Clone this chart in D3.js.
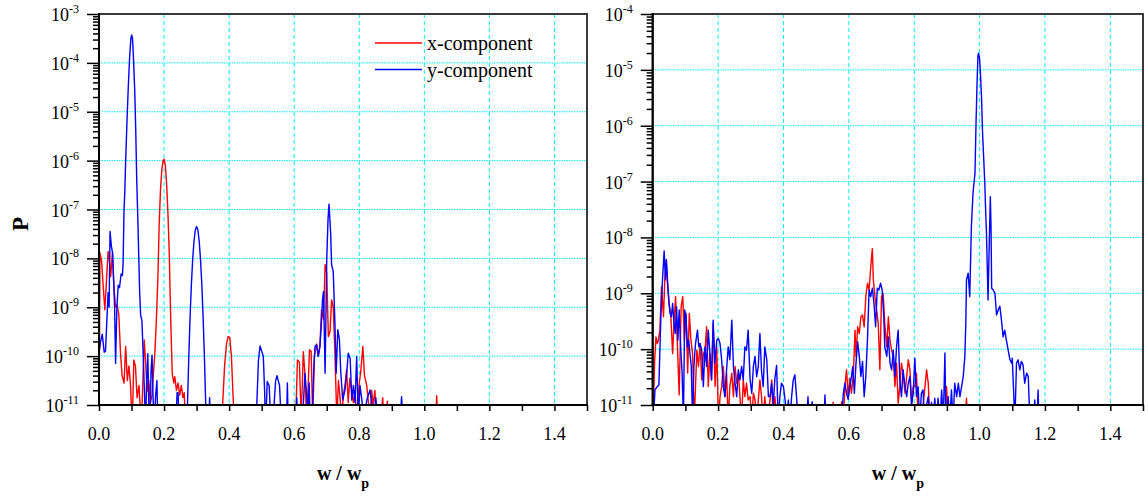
<!DOCTYPE html>
<html>
<head>
<meta charset="utf-8">
<script src="https://cdn.jsdelivr.net/npm/d3@7"></script>
<style>
  body { margin: 0; background: #fff; }
  svg text { font-family: "Liberation Serif", "Times New Roman", serif; fill: #000; }
</style>
</head>
<body>
<svg id="chart" width="1148" height="500"></svg>
<script>
// values: [w / wp, log10(P)]
const seriesNames = ['x-component', 'y-component'];
const seriesColors = ['#ff0000', '#0000ff'];
const xTicks = [0, 0.1, 0.2, 0.3, 0.4, 0.5, 0.6, 0.7, 0.8, 0.9, 1.0, 1.1, 1.2, 1.3, 1.4, 1.5];
const xTickLabels = ['0.0', '0.2', '0.4', '0.6', '0.8', '1.0', '1.2', '1.4'];
const leftDecades = [-11, -10, -9, -8, -7, -6, -5, -4, -3];
const rightDecades = [-11, -10, -9, -8, -7, -6, -5, -4];

const leftXComp = [
  [0.000,-11.5],[0.003,-7.89],[0.008,-8.06],[0.013,-8.58],[0.018,-9.05],[0.023,-8.46],[0.028,-7.86],[0.031,-7.98],
  [0.036,-8.37],[0.041,-7.89],[0.046,-8.6],[0.051,-9.0],[0.056,-8.95],[0.061,-9.16],[0.066,-9.93],[0.071,-10.4],
  [0.077,-10.55],[0.082,-9.8],[0.087,-10.5],[0.092,-10.2],[0.097,-10.6],[0.102,-11.5],[0.107,-10.08],[0.112,-10.2],
  [0.117,-10.85],[0.123,-10.6],[0.130,-11.5],[0.139,-9.67],[0.143,-10.1],[0.148,-10.72],[0.153,-10.5],[0.158,-10.96],
  [0.163,-10.8],[0.167,-10.38],[0.172,-9.9],[0.177,-9.16],[0.181,-8.4],[0.185,-7.3],[0.189,-6.6],[0.193,-6.2],
  [0.197,-6.0],[0.200,-5.97],[0.204,-6.1],[0.208,-6.5],[0.212,-7.1],[0.216,-7.9],[0.220,-9.12],[0.225,-10.35],
  [0.230,-10.55],[0.233,-10.42],[0.238,-10.7],[0.243,-10.55],[0.248,-10.8],[0.253,-10.6],[0.258,-10.85],[0.262,-10.75],
  [0.266,-11.5],[0.370,-11.5],[0.380,-11.0],[0.386,-10.2],[0.392,-9.75],[0.397,-9.6],[0.402,-9.62],[0.407,-10.0],
  [0.412,-10.8],[0.417,-11.5],[0.600,-11.5],[0.606,-11.0],[0.610,-10.08],[0.616,-10.12],[0.621,-11.2],[0.625,-10.6],
  [0.628,-9.91],[0.633,-10.35],[0.638,-11.3],[0.643,-10.6],[0.647,-9.87],[0.652,-9.9],[0.657,-11.3],[0.662,-10.0],
  [0.669,-9.75],[0.674,-10.0],[0.679,-9.8],[0.684,-9.05],[0.690,-9.25],[0.695,-8.13],[0.700,-8.3],[0.705,-9.6],
  [0.710,-9.5],[0.715,-8.85],[0.720,-9.0],[0.725,-9.9],[0.731,-11.3],[0.736,-10.5],[0.741,-10.85],[0.746,-11.3],
  [0.751,-10.8],[0.756,-10.6],[0.761,-10.28],[0.766,-10.95],[0.771,-10.45],[0.777,-10.75],[0.782,-10.95],[0.787,-10.7],
  [0.792,-11.3],[0.797,-10.8],[0.800,-10.55],[0.804,-10.35],[0.811,-9.8],[0.816,-10.4],[0.823,-10.6],[0.828,-10.95],
  [0.833,-11.3],[0.838,-10.7],[0.843,-11.0],[0.848,-10.7],[0.853,-11.3],[0.866,-11.3],[0.872,-10.85],[0.876,-11.3],
  [0.883,-11.3],[0.886,-10.92],[0.889,-11.3],[1.035,-11.3],[1.038,-10.81],[1.041,-11.3],[1.5,-11.5]
];

const leftYComp = [
  [0.000,-9.93],[0.005,-9.7],[0.010,-9.55],[0.016,-9.92],[0.020,-9.9],[0.024,-9.3],[0.028,-8.7],[0.031,-9.0],
  [0.034,-7.45],[0.038,-7.75],[0.042,-7.9],[0.045,-8.45],[0.048,-9.0],[0.051,-10.15],[0.055,-9.0],[0.059,-8.55],
  [0.063,-8.6],[0.068,-8.32],[0.072,-8.35],[0.074,-8.1],[0.077,-7.0],[0.079,-6.7],[0.082,-6.0],[0.086,-5.2],
  [0.090,-4.5],[0.094,-3.9],[0.098,-3.5],[0.1005,-3.43],[0.103,-3.5],[0.106,-3.9],[0.110,-4.6],[0.113,-5.4],
  [0.116,-6.4],[0.119,-7.1],[0.122,-7.9],[0.125,-8.7],[0.128,-9.16],[0.132,-9.28],[0.136,-10.0],[0.140,-10.8],
  [0.143,-11.5],[0.146,-10.6],[0.150,-9.95],[0.153,-11.0],[0.156,-11.5],[0.160,-10.3],[0.163,-9.98],[0.166,-10.8],
  [0.169,-11.5],[0.174,-10.8],[0.178,-10.5],[0.181,-11.5],[0.236,-11.5],[0.240,-10.75],[0.243,-10.75],[0.247,-11.5],
  [0.268,-11.5],[0.272,-10.98],[0.276,-10.02],[0.280,-9.2],[0.284,-8.53],[0.288,-8.02],[0.292,-7.65],[0.296,-7.42],
  [0.300,-7.35],[0.304,-7.42],[0.308,-7.65],[0.312,-8.02],[0.316,-8.53],[0.320,-9.2],[0.324,-10.02],[0.328,-10.98],
  [0.332,-11.5],[0.337,-11.5],[0.340,-10.85],[0.343,-11.5],[0.480,-11.5],[0.485,-11.0],[0.490,-10.1],[0.495,-9.79],
  [0.500,-9.9],[0.505,-10.0],[0.509,-10.7],[0.512,-11.5],[0.517,-10.52],[0.523,-10.6],[0.529,-11.5],[0.538,-11.0],
  [0.543,-10.5],[0.547,-10.4],[0.551,-10.5],[0.555,-10.6],[0.561,-11.5],[0.576,-11.5],[0.579,-10.55],[0.582,-11.5],
  [0.605,-11.5],[0.608,-10.85],[0.611,-11.5],[0.624,-11.5],[0.628,-11.0],[0.633,-10.35],[0.638,-10.75],[0.642,-11.2],
  [0.646,-10.55],[0.649,-11.3],[0.655,-11.3],[0.660,-10.3],[0.664,-9.8],[0.669,-9.77],[0.674,-10.0],[0.679,-9.8],
  [0.683,-9.4],[0.687,-8.85],[0.690,-8.68],[0.695,-10.35],[0.700,-8.03],[0.704,-7.2],[0.707,-6.89],[0.712,-7.48],
  [0.715,-8.13],[0.720,-8.27],[0.725,-9.29],[0.729,-10.35],[0.734,-9.46],[0.739,-9.66],[0.743,-10.31],[0.749,-10.9],
  [0.756,-10.7],[0.762,-10.3],[0.766,-9.94],[0.772,-10.05],[0.777,-10.9],[0.782,-10.6],[0.787,-10.95],[0.792,-10.01],
  [0.797,-11.3],[0.802,-10.6],[0.808,-10.9],[0.815,-11.3],[0.823,-10.9],[0.833,-10.69],[0.838,-10.95],[0.846,-11.3],
  [0.851,-10.85],[0.855,-11.3],[0.926,-11.3],[0.930,-10.83],[0.934,-11.3],[1.5,-11.5]
];

const rightXComp = [
  [0.000,-11.5],[0.006,-10.2],[0.010,-9.78],[0.014,-9.9],[0.017,-9.85],[0.022,-9.66],[0.027,-8.88],[0.033,-9.42],
  [0.037,-8.76],[0.041,-8.40],[0.045,-8.82],[0.050,-9.18],[0.055,-9.36],[0.061,-10.08],[0.065,-9.54],[0.070,-9.06],
  [0.075,-9.84],[0.081,-10.82],[0.087,-9.24],[0.092,-9.06],[0.097,-9.84],[0.102,-9.36],[0.107,-10.43],[0.112,-9.36],
  [0.117,-9.84],[0.122,-10.08],[0.127,-11.3],[0.135,-10.02],[0.140,-10.31],[0.145,-9.9],[0.150,-10.55],[0.155,-10.08],
  [0.160,-10.02],[0.165,-9.6],[0.170,-10.67],[0.175,-10.08],[0.180,-10.55],[0.185,-9.54],[0.191,-10.67],[0.196,-9.96],
  [0.201,-11.3],[0.206,-10.85],[0.211,-10.67],[0.216,-10.31],[0.221,-10.85],[0.226,-10.43],[0.231,-11.3],[0.236,-10.67],
  [0.242,-10.43],[0.247,-10.85],[0.252,-10.31],[0.257,-10.61],[0.262,-10.43],[0.267,-10.85],[0.272,-11.3],[0.277,-10.55],
  [0.282,-10.85],[0.287,-10.61],[0.292,-10.91],[0.298,-10.85],[0.303,-11.3],[0.308,-10.79],[0.313,-10.91],[0.318,-11.3],
  [0.328,-10.55],[0.333,-10.85],[0.338,-11.3],[0.343,-10.85],[0.349,-11.3],[0.359,-10.91],[0.364,-10.55],[0.369,-11.3],
  [0.374,-10.85],[0.379,-11.3],[0.549,-11.3],[0.552,-10.95],[0.555,-11.3],[0.575,-11.3],[0.578,-10.94],[0.583,-11.3],
  [0.588,-10.67],[0.593,-10.37],[0.598,-10.85],[0.603,-10.52],[0.608,-10.79],[0.614,-10.43],[0.619,-9.66],[0.622,-10.13],
  [0.627,-9.6],[0.632,-9.72],[0.637,-9.42],[0.642,-9.39],[0.647,-9.6],[0.652,-9.06],[0.657,-8.82],[0.662,-8.94],
  [0.668,-8.46],[0.672,-8.20],[0.675,-8.76],[0.680,-9.06],[0.685,-9.30],[0.690,-9.54],[0.695,-10.37],[0.700,-9.06],
  [0.705,-9.0],[0.710,-9.54],[0.716,-9.96],[0.721,-9.42],[0.726,-9.84],[0.731,-10.02],[0.736,-10.13],[0.741,-10.67],
  [0.746,-10.25],[0.751,-10.97],[0.756,-10.67],[0.761,-10.25],[0.766,-10.43],[0.772,-10.79],[0.777,-10.49],[0.782,-10.19],
  [0.787,-10.37],[0.792,-10.97],[0.797,-10.67],[0.802,-10.67],[0.807,-10.43],[0.812,-11.3],[0.822,-11.3],[0.833,-10.67],
  [0.838,-10.37],[0.843,-10.61],[0.848,-11.3],[0.894,-11.3],[0.899,-10.67],[0.904,-11.3],[0.957,-11.3],[0.960,-10.88],
  [0.963,-11.3],[1.5,-11.5]
];

const rightYComp = [
  [0.000,-11.5],[0.007,-10.73],[0.014,-10.67],[0.019,-10.64],[0.022,-10.02],[0.025,-9.42],[0.030,-8.76],[0.035,-8.24],
  [0.039,-8.76],[0.042,-8.40],[0.046,-8.82],[0.050,-9.18],[0.053,-9.36],[0.057,-9.42],[0.061,-9.18],[0.065,-9.54],
  [0.069,-9.72],[0.073,-9.24],[0.077,-9.84],[0.081,-9.30],[0.086,-10.02],[0.090,-10.43],[0.094,-11.3],[0.098,-9.30],
  [0.102,-9.42],[0.106,-9.96],[0.110,-9.84],[0.114,-10.08],[0.118,-10.31],[0.122,-11.3],[0.126,-10.31],[0.131,-9.90],
  [0.137,-9.66],[0.141,-9.96],[0.145,-9.90],[0.150,-10.02],[0.155,-10.67],[0.160,-9.96],[0.165,-10.31],[0.170,-9.66],
  [0.175,-10.08],[0.180,-10.55],[0.185,-9.48],[0.190,-10.25],[0.196,-9.84],[0.201,-9.81],[0.206,-9.90],[0.211,-10.19],
  [0.216,-10.67],[0.221,-10.85],[0.226,-10.37],[0.231,-9.96],[0.236,-10.19],[0.242,-9.48],[0.247,-10.31],[0.252,-10.61],
  [0.257,-10.85],[0.262,-10.37],[0.267,-10.55],[0.272,-10.31],[0.277,-10.55],[0.282,-9.96],[0.287,-10.02],[0.292,-9.66],
  [0.298,-10.55],[0.303,-10.79],[0.308,-10.31],[0.313,-10.13],[0.318,-10.49],[0.323,-10.31],[0.328,-9.72],[0.333,-10.40],
  [0.338,-10.67],[0.343,-9.96],[0.349,-10.19],[0.354,-10.85],[0.359,-10.85],[0.364,-10.61],[0.369,-10.97],[0.374,-10.52],
  [0.379,-10.29],[0.384,-11.3],[0.389,-10.85],[0.394,-10.61],[0.400,-10.67],[0.405,-10.91],[0.410,-11.3],[0.415,-10.91],
  [0.420,-11.3],[0.425,-10.85],[0.430,-10.55],[0.435,-10.46],[0.440,-10.85],[0.445,-11.3],[0.471,-11.3],[0.475,-10.85],
  [0.479,-11.3],[0.488,-10.94],[0.493,-11.3],[0.524,-11.3],[0.527,-10.82],[0.530,-11.3],[0.578,-11.3],[0.583,-10.8],
  [0.588,-10.61],[0.593,-10.79],[0.598,-10.9],[0.603,-10.67],[0.608,-10.49],[0.612,-10.31],[0.617,-10.79],[0.622,-10.25],
  [0.627,-9.87],[0.632,-10.13],[0.637,-10.49],[0.642,-10.22],[0.647,-10.85],[0.652,-10.49],[0.657,-9.84],[0.662,-8.94],
  [0.667,-9.06],[0.672,-8.91],[0.677,-9.18],[0.682,-9.6],[0.687,-8.91],[0.692,-8.94],[0.697,-8.82],[0.702,-8.94],
  [0.707,-9.42],[0.710,-9.96],[0.716,-10.13],[0.721,-9.78],[0.726,-10.25],[0.731,-10.37],[0.736,-10.02],[0.741,-10.49],
  [0.746,-9.96],[0.751,-9.66],[0.756,-10.55],[0.761,-10.85],[0.766,-10.37],[0.772,-10.67],[0.777,-10.85],[0.782,-10.61],
  [0.787,-10.49],[0.792,-11.0],[0.797,-10.79],[0.802,-10.16],[0.807,-10.85],[0.812,-10.67],[0.817,-11.3],[0.822,-10.79],
  [0.827,-10.73],[0.832,-11.3],[0.838,-11.0],[0.843,-10.85],[0.848,-11.3],[0.853,-10.95],[0.858,-11.3],[0.863,-10.88],
  [0.868,-11.3],[0.873,-10.88],[0.879,-11.3],[0.884,-10.73],[0.889,-11.3],[0.894,-10.07],[0.897,-11.3],[0.904,-10.85],
  [0.909,-11.3],[0.914,-10.73],[0.919,-11.3],[0.924,-10.61],[0.930,-10.85],[0.935,-10.61],[0.940,-10.85],[0.945,-10.67],
  [0.950,-10.49],[0.955,-10.13],[0.958,-9.5],[0.960,-8.76],[0.965,-8.64],[0.970,-9.06],[0.975,-7.8],[0.980,-7.2],
  [0.986,-6.85],[0.989,-6.0],[0.992,-5.3],[0.995,-4.75],[0.997,-4.70],[1.000,-4.80],[1.003,-5.1],[1.006,-5.5],
  [1.009,-6.1],[1.012,-6.5],[1.016,-7.03],[1.019,-7.6],[1.021,-7.9],[1.026,-9.12],[1.030,-8.0],[1.033,-7.27],
  [1.035,-7.8],[1.037,-8.91],[1.042,-8.94],[1.047,-9.0],[1.052,-9.39],[1.057,-9.30],[1.062,-9.23],[1.067,-9.48],
  [1.072,-9.78],[1.077,-9.66],[1.082,-9.84],[1.087,-10.0],[1.093,-10.19],[1.098,-10.25],[1.100,-10.16],[1.108,-11.3],
  [1.113,-10.25],[1.118,-10.19],[1.123,-10.37],[1.128,-10.22],[1.133,-10.28],[1.138,-10.61],[1.144,-10.43],[1.149,-10.49],
  [1.154,-11.3],[1.164,-11.3],[1.169,-10.91],[1.172,-11.3],[1.176,-11.3],[1.179,-10.73],[1.182,-11.3],[1.5,-11.5]
];

const svg = d3.select('#chart');
const plotTop = 14, plotBottom = 405;

function drawPanel(cfg) {
  const g = svg.append('g');
  const decades = cfg.decades;
  const x = d3.scaleLinear().domain([0, 1.5]).range([cfg.left, cfg.right]);
  const y = d3.scaleLog()
    .domain([Math.pow(10, decades[0]), Math.pow(10, decades[decades.length - 1])])
    .range([plotBottom, plotTop]);

  const clipId = 'clip-' + cfg.id;
  svg.append('clipPath').attr('id', clipId)
    .append('rect')
    .attr('x', cfg.left).attr('y', plotTop)
    .attr('width', cfg.right - cfg.left).attr('height', plotBottom - plotTop);

  // grid
  g.append('g').selectAll('line')
    .data(xTicks.filter((d, i) => i % 2 === 0 && d > 0 && d < 1.5))
    .join('line')
    .attr('x1', d => x(d)).attr('x2', d => x(d))
    .attr('y1', plotTop).attr('y2', plotBottom)
    .attr('stroke', '#00f0f0').attr('stroke-width', 1)
    .attr('stroke-dasharray', '4,3');
  g.append('g').selectAll('line')
    .data(decades.slice(1, -1))
    .join('line')
    .attr('x1', cfg.left).attr('x2', cfg.right)
    .attr('y1', d => y(Math.pow(10, d))).attr('y2', d => y(Math.pow(10, d)))
    .attr('stroke', '#00f0f0').attr('stroke-width', 1)
    .attr('stroke-dasharray', '1.5,1');

  // series
  const line = d3.line()
    .x(d => x(d[0]))
    .y(d => y(Math.pow(10, d[1])));
  cfg.series.forEach((s, i) => {
    g.append('path')
      .attr('clip-path', `url(#${clipId})`)
      .attr('d', line(s))
      .attr('fill', 'none')
      .attr('stroke', seriesColors[i])
      .attr('stroke-width', 1.4)
      .attr('stroke-linejoin', 'round');
  });

  // frame
  g.append('rect')
    .attr('x', cfg.left).attr('y', plotTop)
    .attr('width', cfg.right - cfg.left).attr('height', plotBottom - plotTop)
    .attr('fill', 'none').attr('stroke', '#3a3a3a').attr('stroke-width', 2);

  // y axis: minor + major ticks
  const minors = [];
  decades.slice(0, -1).forEach(d => {
    for (let m = 2; m <= 9; m++) minors.push(m * Math.pow(10, d));
  });
  const majors = decades.map(d => Math.pow(10, d));

  const yMinor = g.append('g').attr('transform', `translate(${cfg.left},0)`)
    .call(d3.axisLeft(y).tickValues(minors).tickSize(6).tickFormat(''));
  const yMajor = g.append('g').attr('transform', `translate(${cfg.left},0)`)
    .call(d3.axisLeft(y).tickValues(majors).tickSize(12).tickFormat(''));
  [yMinor, yMajor].forEach(a => {
    a.select('.domain').remove();
    a.selectAll('line').attr('stroke', '#000').attr('stroke-width', 1.5);
  });

  g.append('g').selectAll('text')
    .data(decades)
    .join('text')
    .attr('x', cfg.left - 20)
    .attr('y', d => y(Math.pow(10, d)) + 7)
    .attr('text-anchor', 'end')
    .attr('font-size', 18)
    .each(function (d) {
      const t = d3.select(this);
      t.append('tspan').text('10');
      t.append('tspan').attr('dy', -8).attr('font-size', 12).text(String(d));
    });

  // x axis
  const xAxis = g.append('g').attr('transform', `translate(0,${plotBottom})`)
    .call(d3.axisBottom(x).tickValues(xTicks).tickSize(6).tickFormat(''));
  xAxis.select('.domain').remove();
  xAxis.selectAll('line').attr('stroke', '#000').attr('stroke-width', 1.5);

  g.append('g').selectAll('text')
    .data(xTickLabels)
    .join('text')
    .attr('x', d => x(+d))
    .attr('y', 440)
    .attr('text-anchor', 'middle')
    .attr('font-size', 18)
    .text(d => d);

  // left and bottom axis lines
  g.append('line')
    .attr('x1', cfg.left).attr('x2', cfg.left).attr('y1', plotTop - 1).attr('y2', plotBottom + 1)
    .attr('stroke', '#000').attr('stroke-width', 2);
  g.append('line')
    .attr('x1', cfg.left - 1).attr('x2', cfg.right + 1).attr('y1', plotBottom).attr('y2', plotBottom)
    .attr('stroke', '#000').attr('stroke-width', 2);

  // x title
  const title = g.append('text')
    .attr('x', (cfg.left + cfg.right) / 2)
    .attr('y', 480)
    .attr('text-anchor', 'middle')
    .attr('font-size', 20)
    .attr('font-weight', 'bold');
  title.append('tspan').text('w / w');
  title.append('tspan').attr('dy', 8).attr('font-size', 14).text('p');

  return { x, y, g };
}

drawPanel({ id: 'l', left: 99, right: 587, decades: leftDecades, series: [leftXComp, leftYComp] });
drawPanel({ id: 'r', left: 652.7, right: 1143, decades: rightDecades, series: [rightXComp, rightYComp] });

// y title
svg.append('text')
  .attr('transform', 'translate(28,224) rotate(-90)')
  .attr('text-anchor', 'middle')
  .attr('font-size', 23)
  .attr('font-weight', 'bold')
  .text('P');

// legend (left panel)
const legend = svg.append('g');
seriesNames.forEach((name, i) => {
  const ly = 43 + i * 26.5;
  legend.append('line')
    .attr('x1', 375).attr('x2', 422).attr('y1', ly).attr('y2', ly)
    .attr('stroke', seriesColors[i]).attr('stroke-width', 1.5);
  legend.append('text')
    .attr('x', 427).attr('y', ly + 7)
    .attr('font-size', 20)
    .text(name);
});
</script>
</body>
</html>
